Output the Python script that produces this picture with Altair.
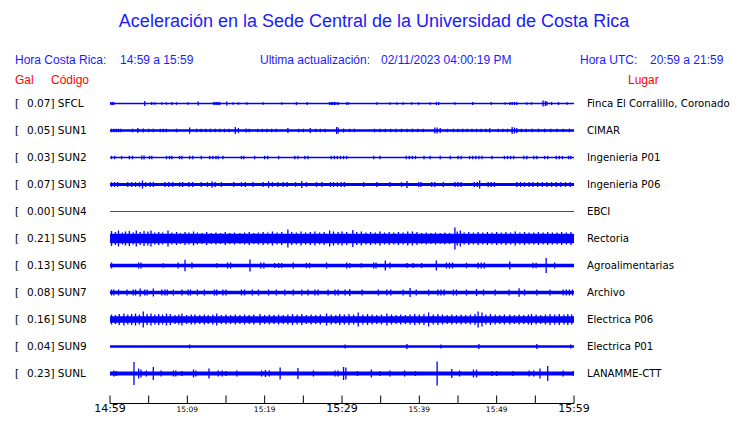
import altair as alt
import pandas as pd

# ---------------- data ----------------
codes = ["SFCL", "SUN1", "SUN2", "SUN3", "SUN4", "SUN5", "SUN6", "SUN7", "SUN8", "SUN9", "SUNL"]
gal_max = [0.07, 0.05, 0.03, 0.07, 0.00, 0.21, 0.13, 0.08, 0.16, 0.04, 0.23]
places = ["Finca El Corralillo, Coronado", "CIMAR", "Ingenieria P01", "Ingenieria P06", "EBCI",
          "Rectoria", "Agroalimentarias", "Archivo", "Electrica P06", "Electrica P01", "LANAMME-CTT"]
# steady background noise level of each trace (gal, half amplitude)
noise_gal = [0.013, 0.023, 0.013, 0.03, 0.01, 0.095, 0.036, 0.033, 0.066, 0.027, 0.04]

# (minute after 14:59, peak amplitude in gal)
sfcl_peaks = [(0.1, .03), (0.3, .03), (0.5, .03), (4.5, .05), (5.4, .03), (5.8, .025), (6.7, .025), (7.3, .025),
              (8.0, .03), (8.6, .025), (10.1, .025), (11.4, .04), (13.4, .03), (13.6, .03), (13.8, .03), (14.0, .03),
              (14.2, .03), (15.1, .04), (15.9, .025), (16.6, .025), (17.7, .025), (19.8, .025), (22.2, .025),
              (24.1, .03), (25.5, .03), (28.4, .03), (28.6, .03), (28.8, .03), (29.0, .03), (29.2, .03), (29.5, .03),
              (30.6, .025), (30.8, .025), (34.5, .025), (36.2, .025), (37.1, .025), (37.9, .025), (39.0, .025),
              (39.9, .025), (41.4, .025), (42.2, .03), (42.5, .03), (44.6, .025), (46.9, .03), (49.3, .03),
              (51.1, .025), (51.7, .03), (52.0, .03), (52.3, .03), (52.6, .03), (53.9, .025), (54.5, .025),
              (56.0, .06), (56.3, .05), (56.5, .04), (57.1, .03), (58.0, .03), (59.1, .025)]
sun1_peaks = [(0.2, .036), (0.5, .036), (0.8, .036), (1.1, .036), (1.4, .036), (2.9, .036), (3.6, .05), (4.3, .04),
              (5.0, .036), (5.6, .036), (6.5, .036), (6.9, .036), (7.3, .036), (8.6, .036), (10.3, .06), (11.2, .036),
              (11.8, .036), (12.4, .036), (13.0, .036), (13.6, .036), (14.2, .036), (14.8, .036), (15.4, .036),
              (16.2, .07), (16.6, .05), (17.6, .04), (18.0, .036), (19.1, .036), (19.7, .036), (20.3, .036),
              (20.9, .036), (21.5, .036), (23.0, .05), (24.4, .036), (25.0, .036), (25.9, .05), (26.6, .036),
              (27.2, .036), (27.8, .036), (29.3, .07), (29.5, .06), (30.2, .04), (31.0, .036), (31.6, .036),
              (34.2, .036), (34.9, .036), (35.6, .036), (36.3, .036), (37.0, .036), (37.7, .036), (38.4, .036),
              (39.1, .036), (39.8, .036), (40.5, .036), (42.0, .06), (42.3, .06), (42.7, .05), (43.6, .036),
              (44.4, .036), (45.0, .036), (45.6, .036), (46.2, .036), (46.8, .036), (47.4, .036), (48.0, .036),
              (48.6, .036), (49.1, .045), (50.2, .036), (50.8, .036), (51.4, .036), (52.0, .07), (52.3, .06),
              (52.6, .05), (53.2, .036), (53.8, .036), (54.6, .036), (55.4, .036), (56.2, .036), (57.0, .036),
              (57.8, .036), (58.6, .036), (59.4, .036)]
sun2_peaks = [(0.2, .034), (0.6, .034), (1.5, .034), (2.5, .034), (2.9, .034), (4.1, .04), (4.4, .04), (5.1, .034),
              (5.4, .034), (7.3, .034), (7.7, .034), (8.0, .034), (9.0, .034), (9.3, .034), (10.3, .034),
              (10.7, .034), (11.8, .034), (12.9, .034), (13.3, .034), (13.7, .034), (14.0, .034), (14.6, .034),
              (17.0, .034), (17.3, .034), (18.7, .034), (20.0, .034), (20.4, .034), (21.8, .034), (23.9, .034),
              (24.3, .034), (25.2, .034), (25.6, .034), (28.6, .034), (29.0, .034), (29.4, .034), (29.8, .034),
              (30.2, .034), (30.6, .034), (34.1, .034), (34.9, .034), (38.3, .034), (38.7, .034), (39.1, .034),
              (39.5, .034), (40.6, .034), (41.4, .034), (42.7, .034), (44.0, .034), (45.0, .034), (45.4, .034),
              (46.5, .034), (46.9, .034), (47.3, .034), (47.7, .034), (48.1, .034), (49.4, .034), (51.0, .034),
              (51.4, .034), (51.8, .034), (52.2, .034), (53.5, .034), (53.9, .034), (54.8, .034), (55.2, .034),
              (56.2, .034), (56.6, .034), (57.7, .034), (58.1, .034), (58.5, .034), (59.3, .034), (59.6, .034)]
sun3_peaks = [(0.2, .048), (0.6, .048), (1.0, .048), (2.3, .048), (2.8, .048), (3.3, .048), (3.8, .048), (4.2, .08),
              (4.6, .048), (5.2, .048), (5.6, .048), (7.1, .048), (7.6, .048), (8.1, .048), (9.0, .048), (9.4, .048),
              (10.2, .048), (10.7, .048), (11.8, .048), (12.6, .048), (13.2, .065), (13.6, .048), (14.4, .048),
              (16.0, .048), (17.0, .048), (17.5, .048), (18.5, .048), (19.8, .048), (20.5, .065), (21.0, .048),
              (21.7, .048), (22.4, .048), (22.9, .048), (24.0, .048), (24.8, .07), (25.4, .048), (26.7, .048),
              (27.4, .048), (28.5, .048), (28.9, .048), (29.4, .048), (29.9, .048), (30.3, .048), (32.8, .048),
              (34.5, .048), (36.2, .048), (37.7, .048), (38.4, .07), (39.9, .048), (40.2, .048), (41.6, .048),
              (42.0, .048), (43.1, .048), (44.6, .048), (45.0, .048), (45.4, .048), (47.1, .048), (47.5, .048),
              (47.8, .08), (48.9, .048), (49.3, .048), (49.7, .048), (52.6, .048), (53.1, .048), (53.6, .048),
              (54.2, .048), (54.7, .048), (55.3, .048), (55.9, .048), (56.5, .048), (57.1, .048), (57.7, .048),
              (58.3, .048), (58.9, .048), (59.5, .048)]
sun4_peaks = []
sun5_peaks = [(0.2, .15), (0.7, .13), (1.1, .16), (1.6, .12), (2.0, .14), (2.5, .15), (3.0, .12), (3.4, .16),
              (3.9, .13), (4.4, .15), (4.9, .14), (5.3, .16), (5.8, .12), (6.3, .13), (6.8, .12), (7.5, .16),
              (8.0, .12), (8.6, .13), (9.1, .11), (9.7, .13), (10.2, .12), (10.8, .14), (11.3, .12), (11.9, .11),
              (12.5, .13), (13.1, .11), (13.7, .12), (14.3, .11), (14.9, .13), (15.5, .11), (16.1, .12), (16.8, .11),
              (17.4, .12), (18.0, .13), (18.6, .11), (19.2, .12), (19.8, .13), (20.4, .12), (21.0, .14), (21.6, .12),
              (22.2, .13), (23.0, .18), (23.5, .13), (24.1, .12), (24.7, .14), (25.3, .12), (25.9, .13), (26.5, .14),
              (27.1, .12), (27.7, .13), (28.4, .16), (28.9, .14), (29.5, .13), (30.0, .14), (30.6, .13), (31.4, .17),
              (31.9, .13), (32.5, .14), (33.1, .12), (33.7, .13), (34.3, .12), (34.9, .14), (35.5, .12), (36.1, .13),
              (36.7, .12), (37.3, .13), (37.9, .12), (38.5, .14), (39.1, .14), (39.7, .13), (40.3, .11), (40.9, .12),
              (41.5, .11), (42.1, .12), (42.7, .11), (43.3, .12), (43.9, .11), (44.6, .22), (44.9, .14), (45.3, .16),
              (45.8, .12), (46.4, .13), (47.0, .12), (47.6, .13), (48.2, .12), (48.8, .13), (49.4, .12), (50.0, .13),
              (50.6, .12), (51.2, .13), (51.8, .12), (52.4, .14), (53.0, .12), (53.6, .13), (54.2, .12), (54.8, .12),
              (55.4, .13), (56.0, .12), (56.6, .13), (57.2, .12), (57.8, .12), (58.4, .13), (59.0, .12), (59.6, .13)]
sun6_peaks = [(0.2, .06), (3.7, .06), (4.0, .06), (6.9, .045), (8.8, .06), (9.7, .115), (10.6, .06), (13.8, .045),
              (15.2, .06), (15.6, .06), (18.1, .12), (19.5, .06), (19.9, .06), (21.3, .05), (21.8, .05), (22.2, .05),
              (23.7, .06), (25.4, .055), (25.8, .055), (28.0, .06), (30.6, .06), (31.0, .05), (32.5, .045),
              (34.1, .06), (34.4, .06), (35.6, .10), (36.2, .06), (38.4, .05), (39.2, .05), (40.3, .05), (42.2, .10),
              (43.5, .06), (43.9, .06), (44.3, .06), (46.1, .055), (47.6, .06), (48.0, .06), (48.4, .06), (51.7, .08),
              (54.7, .055), (55.1, .055), (56.4, .15), (57.5, .06)]
sun7_peaks = [(0.2, .06), (0.5, .06), (1.1, .06), (2.2, .06), (3.0, .06), (3.3, .06), (3.9, .08), (4.5, .06),
              (4.8, .06), (5.6, .08), (6.7, .06), (7.1, .06), (7.4, .06), (8.2, .06), (9.3, .06), (10.1, .06),
              (10.4, .06), (11.3, .06), (12.2, .06), (13.5, .06), (13.8, .06), (14.6, .06), (15.0, .06), (17.0, .06),
              (17.4, .06), (18.4, .06), (19.2, .06), (20.5, .06), (21.5, .06), (22.6, .06), (23.7, .06), (24.8, .06),
              (25.6, .06), (26.5, .06), (26.9, .06), (28.2, .06), (29.1, .06), (29.5, .06), (30.4, .06), (31.0, .07),
              (32.6, .06), (34.7, .06), (35.8, .06), (36.3, .06), (37.9, .06), (38.8, .09), (39.6, .06), (41.2, .06),
              (42.4, .06), (42.8, .06), (43.2, .06), (44.4, .06), (44.8, .06), (46.1, .06), (47.4, .07), (48.3, .06),
              (49.8, .06), (51.6, .06), (52.9, .085), (53.6, .06), (55.2, .06), (56.9, .06), (58.6, .06), (59.0, .06),
              (59.4, .06), (59.8, .06)]
sun8_peaks = [(0.2, .10), (0.7, .09), (1.2, .11), (1.8, .12), (2.3, .10), (2.8, .11), (3.3, .12), (3.8, .10),
              (4.3, .16), (4.8, .11), (5.3, .12), (5.8, .10), (6.3, .11), (6.8, .10), (7.3, .12), (7.8, .11),
              (8.4, .09), (8.9, .10), (9.3, .12), (9.9, .09), (10.5, .10), (11.0, .10), (11.6, .09), (12.2, .10),
              (12.7, .09), (13.3, .10), (13.8, .12), (14.4, .09), (15.0, .10), (15.6, .09), (16.2, .10), (16.8, .09),
              (17.4, .10), (18.0, .09), (18.6, .10), (19.4, .11), (20.0, .09), (20.6, .10), (21.2, .09), (21.8, .10),
              (22.4, .09), (23.0, .10), (23.6, .11), (24.2, .10), (24.8, .11), (25.4, .09), (26.0, .10), (26.6, .09),
              (27.2, .10), (28.0, .12), (28.6, .10), (29.2, .09), (29.7, .11), (30.3, .10), (30.9, .11), (31.5, .10),
              (32.1, .14), (32.7, .10), (33.3, .11), (33.9, .10), (34.5, .09), (35.1, .10), (35.8, .12), (36.4, .10),
              (37.0, .09), (37.6, .10), (38.2, .09), (38.8, .10), (39.4, .11), (40.0, .10), (40.6, .11), (41.2, .14),
              (41.8, .10), (42.4, .11), (43.0, .10), (43.6, .09), (44.2, .10), (44.8, .09), (45.4, .10), (46.0, .09),
              (46.6, .10), (47.2, .11), (47.6, .16), (48.1, .14), (48.6, .10), (49.2, .11), (49.8, .10), (50.4, .09),
              (51.0, .10), (51.7, .10), (52.3, .09), (52.9, .10), (53.5, .09), (54.1, .10), (54.5, .11), (55.1, .10),
              (55.7, .09), (56.3, .10), (56.9, .11), (57.5, .10), (58.1, .11), (58.7, .10), (59.2, .11), (59.7, .10)]
sun9_peaks = [(10.3, .04), (30.4, .04), (38.4, .05), (42.8, .04), (47.7, .05), (55.2, .05), (59.6, .04)]
sunl_peaks = [(0.5, .06), (0.8, .05), (3.1, .23), (3.7, .10), (4.0, .08), (4.7, .06), (5.6, .13), (6.6, .06),
              (8.2, .06), (8.5, .06), (9.3, .05), (10.8, .08), (11.1, .06), (12.8, .10), (14.0, .06), (14.5, .06),
              (15.0, .05), (16.4, .06), (19.6, .06), (20.1, .07), (20.6, .06), (22.0, .12), (24.3, .11), (26.3, .06),
              (29.1, .06), (29.5, .06), (30.2, .13), (30.5, .12), (32.0, .05), (33.8, .08), (34.9, .05), (36.2, .06),
              (38.1, .06), (39.5, .05), (42.3, .24), (44.2, .09), (45.2, .06), (47.0, .08), (47.4, .08), (49.4, .05),
              (50.0, .05), (52.1, .05), (54.2, .06), (54.8, .06), (55.6, .10), (56.6, .15), (58.6, .06), (59.9, .05)]

peaks = [sfcl_peaks, sun1_peaks, sun2_peaks, sun3_peaks, sun4_peaks, sun5_peaks,
         sun6_peaks, sun7_peaks, sun8_peaks, sun9_peaks, sunl_peaks]

tick_minutes = list(range(0, 61, 5))
big_labels = {0: "14:59", 30: "15:29", 60: "15:59"}
small_labels = {10: "15:09", 20: "15:19", 40: "15:39", 50: "15:49"}

# ---------------- layout / style ----------------
W, H = 724, 407
PX_PER_GAL = 50.0
ROW_GAL = 27 / PX_PER_GAL          # vertical distance between traces, in gal
TOP_GAL = 95.5 / PX_PER_GAL        # first trace sits 95.5 px below the top
BLUE = "#0000ff"
TITLE_BLUE = "#1a1aff"
RED = "#ff0000"

xscale = alt.Scale(domain=[0, 60], range=[102, 566], nice=False, zero=False)
yscale = alt.Scale(domain=[TOP_GAL - H / PX_PER_GAL, TOP_GAL], nice=False, zero=False)


def trace_color(code):
    return RED if code == "SUN4" else BLUE


band_rows, spike_rows, label_rows = [], [], []
for i, code in enumerate(codes):
    c = -i * ROW_GAL
    band_rows.append(dict(code=code, t0=0, t1=60, ya=c + noise_gal[i], yb=c - noise_gal[i], col=trace_color(code)))
    for t, a in peaks[i]:
        spike_rows.append(dict(code=code, t=t, ya=c + a, yb=c - a, col=trace_color(code)))
    label_rows.append(dict(code=code, yc=c, left=f"{gal_max[i]:.2f}] {code}", place=places[i]))

bands = pd.DataFrame(band_rows)
spikes = pd.DataFrame(spike_rows)
labels = pd.DataFrame(label_rows)
ticks = pd.DataFrame({"t": tick_minutes})
big = pd.DataFrame({"t": list(big_labels.keys()), "lab": list(big_labels.values())})
small = pd.DataFrame({"t": list(small_labels.keys()), "lab": list(small_labels.values())})
span = pd.DataFrame({"t0": [0], "t1": [60]})

band_layer = alt.Chart(bands).mark_rect().encode(
    x=alt.X("t0:Q", scale=xscale, axis=None), x2="t1:Q",
    y=alt.Y("ya:Q", scale=yscale, axis=None), y2="yb:Q",
    color=alt.Color("col:N", scale=None))

spike_layer = alt.Chart(spikes).mark_rule(strokeWidth=1.3).encode(
    x=alt.X("t:Q", scale=xscale, axis=None),
    y=alt.Y("ya:Q", scale=yscale, axis=None), y2="yb:Q",
    color=alt.Color("col:N", scale=None))

FONT_MONO = "DejaVu Sans"
bracket_layer = alt.Chart(labels).mark_text(align="left", baseline="middle", font=FONT_MONO, fontSize=10.5,
                                            color="black", text="[").encode(
    x=alt.value(7), y=alt.Y("yc:Q", scale=yscale, axis=None))
left_layer = alt.Chart(labels).mark_text(align="left", baseline="middle", font=FONT_MONO, fontSize=10.5,
                                         color="black").encode(
    x=alt.value(19), y=alt.Y("yc:Q", scale=yscale, axis=None), text="left:N")
right_layer = alt.Chart(labels).mark_text(align="left", baseline="middle", font=FONT_MONO, fontSize=10.2,
                                          color="black").encode(
    x=alt.value(579), y=alt.Y("yc:Q", scale=yscale, axis=None), text="place:N")

axis_line = alt.Chart(span).mark_rule(color="black", strokeWidth=1).encode(
    x=alt.X("t0:Q", scale=xscale, axis=None), x2="t1:Q", y=alt.value(395.5))
tick_layer = alt.Chart(ticks).mark_rule(color="black", strokeWidth=1).encode(
    x=alt.X("t:Q", scale=xscale, axis=None), y=alt.value(387.5), y2=alt.value(395.5))
big_lab = alt.Chart(big).mark_text(font=FONT_MONO, fontSize=11, baseline="alphabetic", color="black").encode(
    x=alt.X("t:Q", scale=xscale, axis=None), y=alt.value(404.3), text="lab:N")
small_lab = alt.Chart(small).mark_text(font=FONT_MONO, fontSize=7.5, baseline="alphabetic", color="black").encode(
    x=alt.X("t:Q", scale=xscale, axis=None), y=alt.value(404), text="lab:N")


def free_text(txt, x, y, size, color, align="left", font="Liberation Sans"):
    return alt.Chart(pd.DataFrame({"s": [txt]})).mark_text(
        align=align, baseline="middle", fontSize=size, color=color, font=font).encode(
        x=alt.value(x), y=alt.value(y), text="s:N")


header = [
    free_text("Aceleración en la Sede Central de la Universidad de Costa Rica", 366, 14, 18, TITLE_BLUE, "center"),
    free_text("Hora Costa Rica:", 7, 52, 12, TITLE_BLUE),
    free_text("14:59 a 15:59", 112, 52, 12, TITLE_BLUE),
    free_text("Ultima actualización:", 252, 52, 12, TITLE_BLUE),
    free_text("02/11/2023 04:00:19 PM", 373, 52, 12, TITLE_BLUE),
    free_text("Hora UTC:", 572, 52, 12, TITLE_BLUE),
    free_text("20:59 a 21:59", 642, 52, 12, TITLE_BLUE),
    free_text("Gal", 7, 72, 12, RED),
    free_text("Código", 43, 72, 12, RED),
    free_text("Lugar", 620, 72, 12, RED),
]

chart = alt.layer(
    band_layer, spike_layer, bracket_layer, left_layer, right_layer,
    axis_line, tick_layer, big_lab, small_lab, *header
).properties(
    width=W, height=H, padding=0, autosize="none", background="white"
).configure_view(stroke=None)

chart.save("out.html", embed_options={"renderer": "svg", "actions": False})
